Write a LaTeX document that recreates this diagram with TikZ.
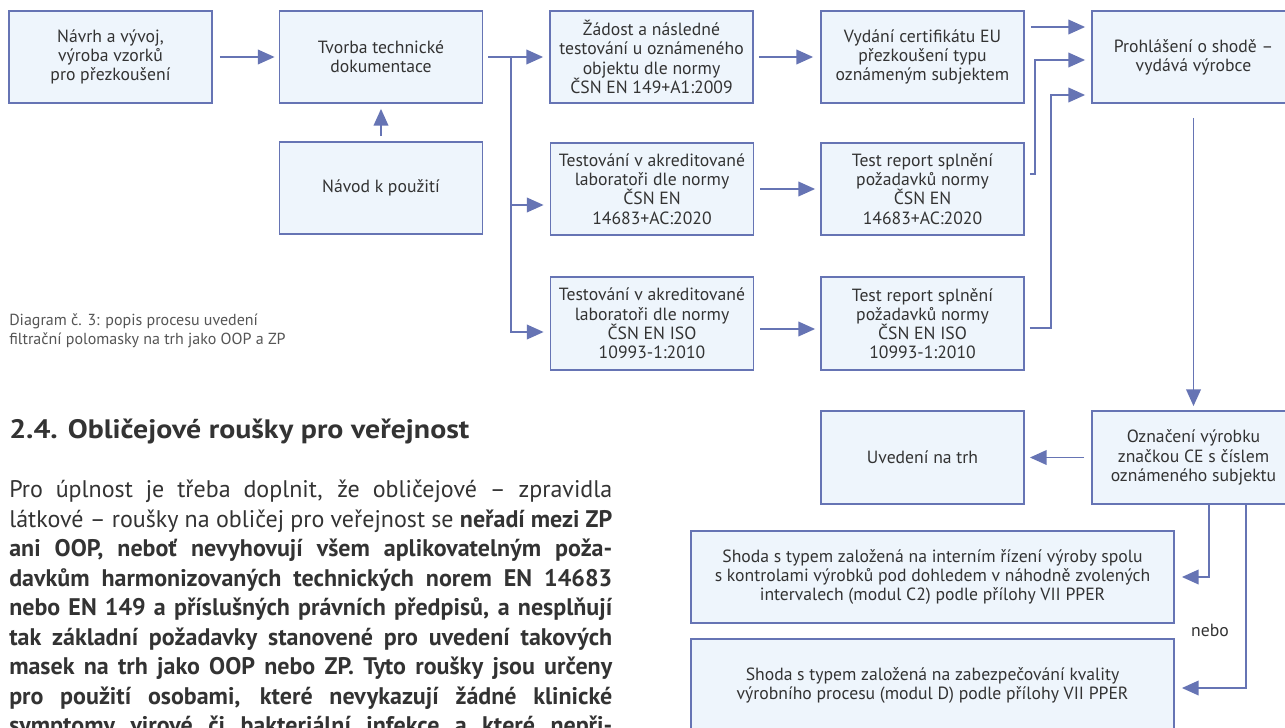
\documentclass[tikz,border=0pt]{standalone}
\usepackage{fontspec}
\setmainfont{PT Sans}
\usetikzlibrary{arrows.meta,calc}
\definecolor{lineblue}{HTML}{6674B4}
\definecolor{boxfill}{HTML}{EEF5FC}
\definecolor{txt}{HTML}{333333}
\definecolor{captxt}{HTML}{555555}
\begin{document}
\begin{tikzpicture}[x=0.75pt,y=-0.75pt,
  box/.style={draw=lineblue, line width=1.4pt, fill=boxfill, minimum width=152.25pt,
    minimum height=69pt, inner sep=0pt, align=center, text=txt,
    font=\fontsize{13.25pt}{14.4pt}\selectfont},
  conn/.style={draw=lineblue, line width=1.1pt, -{Triangle[length=12.5pt,width=11pt]}},
  para/.style={anchor=base west, inner sep=0pt, text=txt, font=\fontsize{18pt}{22pt}\selectfont},
]
\clip (0,0) rectangle (1285,728);
\fill[white] (0,0) rectangle (1285,728);

% boxes
\node[box] (b1) at (110.5,57) {Návrh a vývoj,\\výroba vzorků\\pro přezkoušení};
\node[box] (b2) at (381,57) {Tvorba technické\\dokumentace};
\node[box] (b3) at (651.5,57) {Žádost a následné\\testování u oznámeného\\objektu dle normy\\ČSN EN 149+A1:2009};
\node[box] (b4) at (922.5,57) {Vydání certifikátu EU\\přezkoušení typu\\oznámeným subjektem};
\node[box] (b5) at (1193.5,57) {Prohlášení o shodě –\\vydává výrobce};
\node[box] (navod) at (381,188) {Návod k použití};
\node[box] (t1) at (652,189) {Testování v akreditované\\laboratoři dle normy\\ČSN EN\\14683+AC:2020};
\node[box] (r1) at (922.5,189) {Test report splnění\\požadavků normy\\ČSN EN\\14683+AC:2020};
\node[box, minimum height=69.75pt] (t2) at (652,323.5) {Testování v akreditované\\laboratoři dle normy\\ČSN EN ISO\\10993-1:2010};
\node[box, minimum height=69.75pt] (r2) at (922.5,323.5) {Test report splnění\\požadavků normy\\ČSN EN ISO\\10993-1:2010};
\node[box, minimum height=69.75pt] (uved) at (922.5,457.5) {Uvedení na trh};
\node[box, minimum height=69.75pt] (ozn) at (1193.5,457.5) {Označení výrobku\\značkou CE s číslem\\oznámeného subjektu};
\node[box, minimum width=362.25pt] (shoda1) at (932.5,577) {Shoda s typem založená na interním řízení výroby spolu\\s kontrolami výrobků pod dohledem v náhodně zvolených\\intervalech (modul C2) podle přílohy VII PPER};
\node[box, minimum width=362.25pt, minimum height=69.75pt] (shoda2) at (932.5,685.5) {Shoda s typem založená na zabezpečování kvality\\výrobního procesu (modul D) podle přílohy VII PPER};
\node[text=txt, font=\fontsize{13.25pt}{14.4pt}\selectfont, inner sep=0pt] (nebo) at (1210,630) {nebo};

% connectors
\coordinate (br) at (511,57);
\draw[conn, shorten <=5.25pt, shorten >=3pt] (b1) -- (b2);
\draw[conn, shorten <=3.75pt, shorten >=4.5pt] (b2) -- (b3);
\draw[conn, shorten >=4.5pt] (br) |- ($(t1.west)+(0,16)$);
\draw[conn, shorten >=4.5pt] (br) |- ($(t2.west)+(0,8.5)$);
\draw[conn, shorten <=3.75pt, shorten >=5.25pt] (b3) -- (b4);
\draw[conn, shorten <=4.5pt, shorten >=4.5pt] ($(b4.east)+(0,-30)$) -- ($(b5.west)+(0,-30)$);
\draw[conn, shorten >=4.5pt] ($(r1.east)+(5,-15)$) -| ($(b5.west)+(-56,3)$) -- ($(b5.west)+(0,3)$);
\draw[conn, shorten >=4.5pt] ($(r2.east)+(5,4.5)$) -| ($(b5.west)+(-40,38)$) -- ($(b5.west)+(0,38)$);
\draw[conn, shorten <=4.5pt, shorten >=3.75pt] (t1) -- (r1);
\draw[conn, shorten <=4.5pt, shorten >=3.75pt] ($(t2.east)+(0,5.5)$) -- ($(r2.west)+(0,5.5)$);
\draw[conn, shorten <=3.75pt, shorten >=3.75pt] (navod) -- (b2);
\draw[conn, shorten <=10.5pt, shorten >=3pt] (b5) -- (ozn);
\draw[conn, shorten <=5.25pt, shorten >=3.75pt] (ozn) -- (uved);
\draw[conn, shorten >=5.25pt] ($(ozn.south)+(15.5,0)$) |- (shoda1.east);
\draw[conn, shorten >=5.25pt] ($(ozn.south)+(52.5,0)$) |- ($(shoda2.east)+(0,2.5)$);

% caption
\node[anchor=base west, inner sep=0pt, text=captxt, font=\fontsize{12pt}{14pt}\selectfont] (cap1) at (9,325) {Diagram č. 3: popis procesu uvedení};
\node[anchor=base west, inner sep=0pt, text=captxt, font=\fontsize{12pt}{14pt}\selectfont] (cap2) at (9,344) {filtrační polomasky na trh jako OOP a ZP};

% heading
\node[anchor=base west, inner sep=0pt, text=txt, font=\fontsize{20pt}{24pt}\selectfont\bfseries] (head) at (9,438) {\scalebox{1.12}[1]{2.4. Obličejové roušky pro veřejnost}};

% paragraph
\node[para] (p1) at (9,497.7) {\makebox[452.25pt][s]{Pro úplnost je třeba doplnit, že obličejové – zpravidla}};
\node[para] (p2) at (9,527.2) {\makebox[452.25pt][s]{látkové – roušky na obličej pro veřejnost se \textbf{neřadí mezi ZP}}};
\node[para] (p3) at (9,556.7) {\makebox[452.25pt][s]{\bfseries ani OOP, neboť nevyhovují všem aplikovatelným poža-}};
\node[para] (p4) at (9,586.2) {\makebox[452.25pt][s]{\bfseries davkům harmonizovaných technických norem EN 14683}};
\node[para] (p5) at (9,615.7) {\makebox[452.25pt][s]{\bfseries nebo EN 149 a příslušných právních předpisů, a nesplňují}};
\node[para] (p6) at (9,645.2) {\makebox[452.25pt][s]{\bfseries tak základní požadavky stanovené pro uvedení takových}};
\node[para] (p7) at (9,674.7) {\makebox[452.25pt][s]{\bfseries masek na trh jako OOP nebo ZP. Tyto roušky jsou určeny}};
\node[para] (p8) at (9,704.2) {\makebox[452.25pt][s]{\bfseries pro použití osobami, které nevykazují žádné klinické}};
\node[para] (p9) at (9,733.7) {\makebox[452.25pt][s]{\bfseries symptomy virové či bakteriální infekce a které nepři-}};
\end{tikzpicture}
\end{document}
